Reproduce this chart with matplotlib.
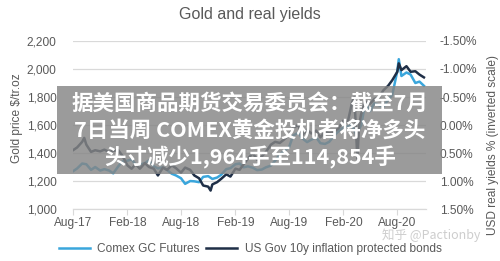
import pandas as pd
import matplotlib
matplotlib.use("Agg")
import matplotlib.pyplot as plt
import matplotlib.dates as mdates
from matplotlib.ticker import FuncFormatter
from matplotlib.patches import Rectangle

plt.rcParams['font.family'] = ['Liberation Sans', 'Noto Sans CJK SC', 'DejaVu Sans']

# Comex GC futures, $/tr.oz
gold_dates = ['2017-08-01', '2017-08-15', '2017-09-01', '2017-09-15', '2017-10-01', '2017-10-15',
              '2017-11-01', '2017-11-15', '2017-12-01', '2017-12-15', '2018-01-01', '2018-01-15',
              '2018-02-01', '2018-02-15', '2018-03-01', '2018-03-15', '2018-04-01', '2018-04-15',
              '2018-05-01', '2018-05-15', '2018-06-01', '2018-06-15', '2018-07-01', '2018-07-15',
              '2018-08-01', '2018-08-15', '2018-09-01', '2018-09-15', '2018-10-01', '2018-10-15',
              '2018-11-01', '2018-11-15', '2018-12-01', '2018-12-15', '2019-01-01', '2019-01-15',
              '2019-02-01', '2019-02-15', '2019-03-01', '2019-03-15', '2019-04-01', '2019-04-15',
              '2019-05-01', '2019-05-15', '2019-06-01', '2019-06-15', '2019-07-01', '2019-07-15',
              '2019-08-01', '2019-08-15', '2019-09-01', '2019-09-15', '2019-10-01', '2019-10-15',
              '2019-11-01', '2019-11-15', '2019-12-01', '2019-12-15', '2020-01-01', '2020-01-15',
              '2020-02-01', '2020-02-15', '2020-03-01', '2020-03-15', '2020-04-01', '2020-04-15',
              '2020-05-01', '2020-05-15', '2020-06-01', '2020-06-15', '2020-07-01', '2020-07-15',
              '2020-08-01', '2020-08-06', '2020-08-15', '2020-09-01', '2020-09-15', '2020-10-01',
              '2020-10-15', '2020-10-30']
gold = [1270, 1290, 1325, 1320, 1280, 1300, 1275, 1285, 1275, 1255, 1305, 1340,
        1345, 1355, 1318, 1318, 1328, 1348, 1305, 1290, 1298, 1278, 1252, 1240,
        1220, 1180, 1200, 1198, 1192, 1230, 1235, 1215, 1225, 1245, 1285, 1292,
        1320, 1325, 1298, 1305, 1295, 1278, 1282, 1298, 1310, 1345, 1390, 1415,
        1440, 1525, 1545, 1505, 1478, 1495, 1512, 1470, 1465, 1480, 1525, 1555,
        1585, 1590, 1600, 1530, 1600, 1760, 1700, 1755, 1740, 1730, 1780, 1815,
        1985, 2070, 1950, 1975, 1960, 1900, 1910, 1880]

# US 10y TIPS real yield, %
tips_dates = ['2017-08-01', '2017-08-15', '2017-09-01', '2017-09-08', '2017-09-15', '2017-10-01',
              '2017-10-15', '2017-11-01', '2017-11-15', '2017-12-01', '2017-12-15', '2018-01-01',
              '2018-01-15', '2018-02-01', '2018-02-15', '2018-03-01', '2018-03-15', '2018-04-01',
              '2018-04-15', '2018-05-01', '2018-05-15', '2018-06-01', '2018-06-15', '2018-07-01',
              '2018-07-15', '2018-08-01', '2018-08-15', '2018-09-01', '2018-09-15', '2018-10-01',
              '2018-10-15', '2018-11-01', '2018-11-09', '2018-11-15', '2018-12-01', '2018-12-15',
              '2019-01-01', '2019-01-15', '2019-02-01', '2019-02-15', '2019-03-01', '2019-03-15',
              '2019-04-01', '2019-04-15', '2019-05-01', '2019-05-15', '2019-06-01', '2019-06-15',
              '2019-07-01', '2019-07-15', '2019-08-01', '2019-08-15', '2019-09-01', '2019-09-15',
              '2019-10-01', '2019-10-15', '2019-11-01', '2019-11-15', '2019-12-01', '2019-12-15',
              '2020-01-01', '2020-01-15', '2020-02-01', '2020-02-15', '2020-03-01', '2020-03-09',
              '2020-03-19', '2020-03-25', '2020-04-01', '2020-04-15', '2020-05-01', '2020-05-15',
              '2020-06-01', '2020-06-15', '2020-07-01', '2020-07-15', '2020-08-01', '2020-08-06',
              '2020-08-15', '2020-09-01', '2020-09-15', '2020-10-01', '2020-10-15', '2020-10-30']
tips = [0.45, 0.40, 0.30, 0.23, 0.35, 0.48, 0.45, 0.47, 0.44, 0.48, 0.46, 0.45,
        0.55, 0.72, 0.78, 0.70, 0.78, 0.68, 0.75, 0.78, 0.90, 0.76, 0.80, 0.72,
        0.77, 0.85, 0.76, 0.80, 0.90, 0.95, 1.08, 1.10, 1.17, 1.06, 1.02, 0.96,
        0.88, 0.92, 0.78, 0.80, 0.70, 0.60, 0.50, 0.62, 0.56, 0.48, 0.35, 0.30,
        0.32, 0.26, 0.18, 0.05, 0.00, 0.18, 0.08, 0.15, 0.10, 0.22, 0.12, 0.14,
        0.12, 0.06, -0.08, -0.04, -0.40, -0.50, 0.60, 0.00, -0.20, -0.42, -0.38, -0.46,
        -0.50, -0.62, -0.70, -0.80, -0.95, -1.10, -0.98, -1.05, -0.95, -0.96, -0.90, -0.85]

light = '#3aa6dc'
dark = '#1f2f47'
grey = '#595959'

fig = plt.figure(figsize=(5.0, 2.61), dpi=100)
ax = fig.add_axes([0.146, 0.199, 0.706, 0.644])
ax2 = ax.twinx()

l1, = ax.plot(pd.to_datetime(gold_dates), gold, color=light, lw=1.8)
l2, = ax2.plot(pd.to_datetime(tips_dates), tips, color=dark, lw=1.8)

ax.set_ylim(1000, 2200)
ax.set_yticks(range(1000, 2201, 200))
ax.yaxis.set_major_formatter(FuncFormatter(lambda v, p: f'{v:,.0f}'))
ax2.set_ylim(1.5, -1.5)
ax2.set_yticks([-1.5, -1.0, -0.5, 0.0, 0.5, 1.0, 1.5])
ax2.yaxis.set_major_formatter(FuncFormatter(lambda v, p: f'{v:.2f}%'))

ax.set_xlim(pd.Timestamp('2017-08-01'), pd.Timestamp('2020-11-06'))
ax.xaxis.set_major_locator(mdates.MonthLocator(bymonth=[2, 8]))
ax.xaxis.set_major_formatter(mdates.DateFormatter('%b-%y'))

ax.grid(axis='y', color='#d9d9d9', lw=0.9)
ax.set_axisbelow(True)
for a in (ax, ax2):
    for s in ('top', 'left', 'right'):
        a.spines[s].set_visible(False)
    a.spines['bottom'].set_color('#d9d9d9')
ax.tick_params(axis='x', colors='#d9d9d9', labelcolor=grey, labelsize=8.6, length=4, pad=2)
ax.tick_params(axis='y', length=0, labelcolor=grey, labelsize=8.6, pad=12)
ax2.tick_params(axis='y', length=0, labelcolor=grey, labelsize=8.6, pad=10)

ax.set_ylabel('Gold price $/tr.oz', color=grey, fontsize=8.6)
ax.yaxis.set_label_coords(-0.143, 0.54)
ax2.set_ylabel('USD real yields % (inverted scale)', color=grey, fontsize=8.6)
ax2.yaxis.set_label_coords(1.172, 0.38)

fig.text(0.5, 0.943, 'Gold and real yields', ha='center', va='center', color=grey, fontsize=11.5)

fig.legend([l1, l2], ['Comex GC Futures', 'US Gov 10y inflation protected bonds'],
           loc='center', bbox_to_anchor=(0.5, 0.045), ncol=2, frameon=False,
           fontsize=8.6, handlelength=2.6, handletextpad=0.6, columnspacing=0.6,
           labelcolor=grey)

# grey news banner over the chart
fig.patches.append(Rectangle((57 / 500, 1 - 174 / 261), 385 / 500, 88 / 261,
                             transform=fig.transFigure, facecolor='#858585', alpha=0.82,
                             edgecolor='none', zorder=5))
banner = ['据美国商品期货交易委员会：截至7月', '7日当周 COMEX黄金投机者将净多头', '头寸减少1,964手至114,854手']
for i, line in enumerate(banner):
    fig.text(0.5, 1 - (103 + 27 * i) / 261, line, ha='center', va='center', color='white',
             fontsize=15.5, fontweight='bold', family=['Noto Sans CJK SC', 'DejaVu Sans'], zorder=6)

fig.text(0.862, 0.097, '知乎 @Pactionby', ha='center', va='center', color='#c8c8c8',
         fontsize=9, family=['Noto Sans CJK SC', 'DejaVu Sans'], alpha=0.9, zorder=6)

fig.savefig('out.png', dpi=100, facecolor='white')
